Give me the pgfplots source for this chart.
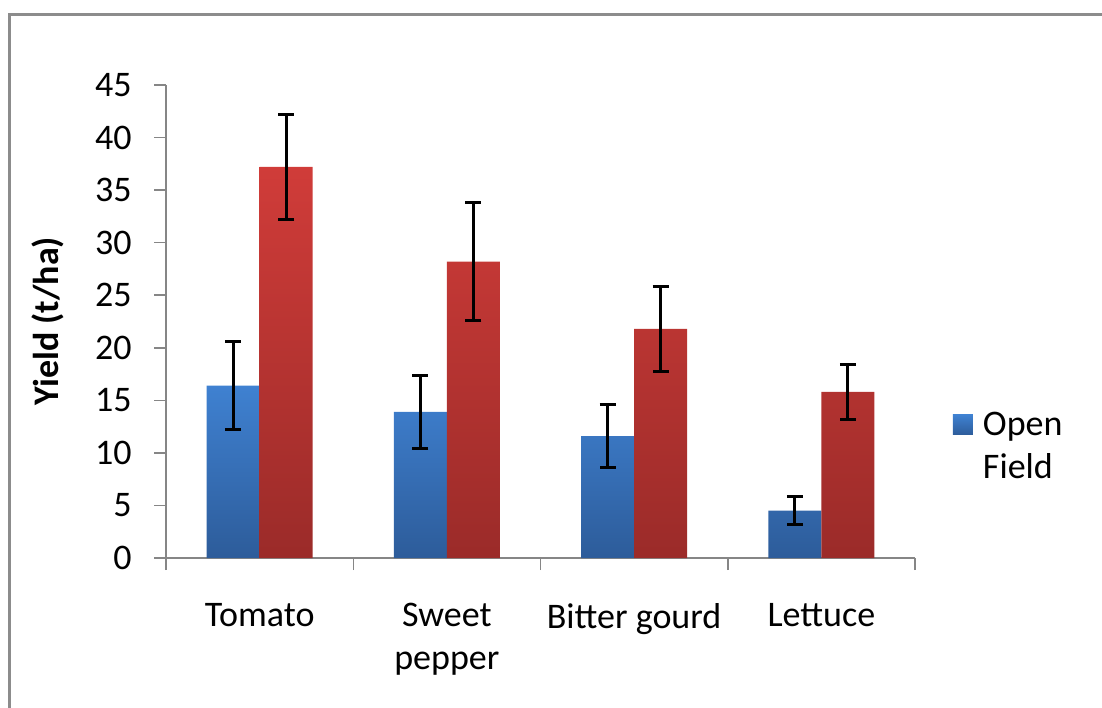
\documentclass[border=0pt]{standalone}
\usepackage{pgfplots}
\pgfplotsset{compat=1.18}
\usepackage{fontspec}
\setmainfont{Carlito}
\definecolor{framegray}{HTML}{8C8C8C}
\definecolor{axisgray}{HTML}{868686}
\definecolor{bluetop}{HTML}{3F81D1}
\definecolor{bluebot}{HTML}{2D5C9A}
\definecolor{redtop}{HTML}{D03C39}
\definecolor{redbot}{HTML}{9B2B29}
\begin{document}
\fontsize{18}{21.5}\selectfont
\begin{tikzpicture}[x=1pt,y=1pt]
\useasboundingbox (0,0) rectangle (551,353.5);
\draw[framegray, line width=1.5pt] (4.5,-2) -- (4.5,346.25) -- (560,346.25);
\begin{axis}[
  at={(83pt,74.5pt)}, anchor=south west,
  width=374.5pt, height=236.5pt, scale only axis,
  xmin=-0.5, xmax=3.5, ymin=0, ymax=45,
  ybar=0pt, bar width=26.5pt,
  axis x line*=bottom, axis y line*=left,
  axis line style={axisgray, line width=0.75pt, -},
  xtick={-0.5,0.5,1.5,2.5,3.5}, xticklabels={},
  extra x ticks={0,1,2,3},
  extra x tick labels={Tomato,{Sweet\\pepper},Bitter gourd,Lettuce},
  extra x tick style={major tick length=0pt, xticklabel style={align=center, yshift=-16.5pt}},
  ytick={0,5,...,45},
  yticklabel style={xshift=-5pt},
  tick align=outside, major tick length=6pt,
  tick style={axisgray, line width=0.75pt},
  tick label style={font=\fontsize{18}{21.5}\selectfont, black},
  /pgf/number format/assume math mode=true,
  ylabel={\bfseries Yield (t/ha)},
  ylabel style={at={(axis description cs:-0.1575,0.5)}, anchor=center, font=\fontsize{18}{21.5}\selectfont},
  legend style={draw=none, fill=none, inner sep=0pt, outer sep=0pt, column sep=5pt,
    at={(axis description cs:1.0507,0.3087)}, anchor=north west,
    nodes={inner sep=0pt, align=left, font=\fontsize{18}{21.5}\selectfont}},
  legend image code/.code={\fill[top color=bluetop,bottom color=bluebot] (0pt,6.5pt) rectangle (10pt,16.5pt);},
  error bars/y dir=both, error bars/y explicit,
  error bars/error bar style={black, line width=1.5pt},
  error bars/error mark options={rotate=90, black, line width=1.5pt, mark size=4pt},
]
\addplot[draw=none, top color=bluetop, bottom color=bluebot]
  coordinates {(0,16.4) +- (0,4.2) (1,13.9) +- (0,3.5) (2,11.6) +- (0,3.0) (3,4.5) +- (0,1.35)};
\addplot[draw=none, top color=redtop, bottom color=redbot]
  coordinates {(0,37.2) +- (0,5.0) (1,28.2) +- (0,5.6) (2,21.8) +- (0,4.05) (3,15.8) +- (0,2.65)};
\legend{{Open\\Field}}
\end{axis}
\end{tikzpicture}
\end{document}
